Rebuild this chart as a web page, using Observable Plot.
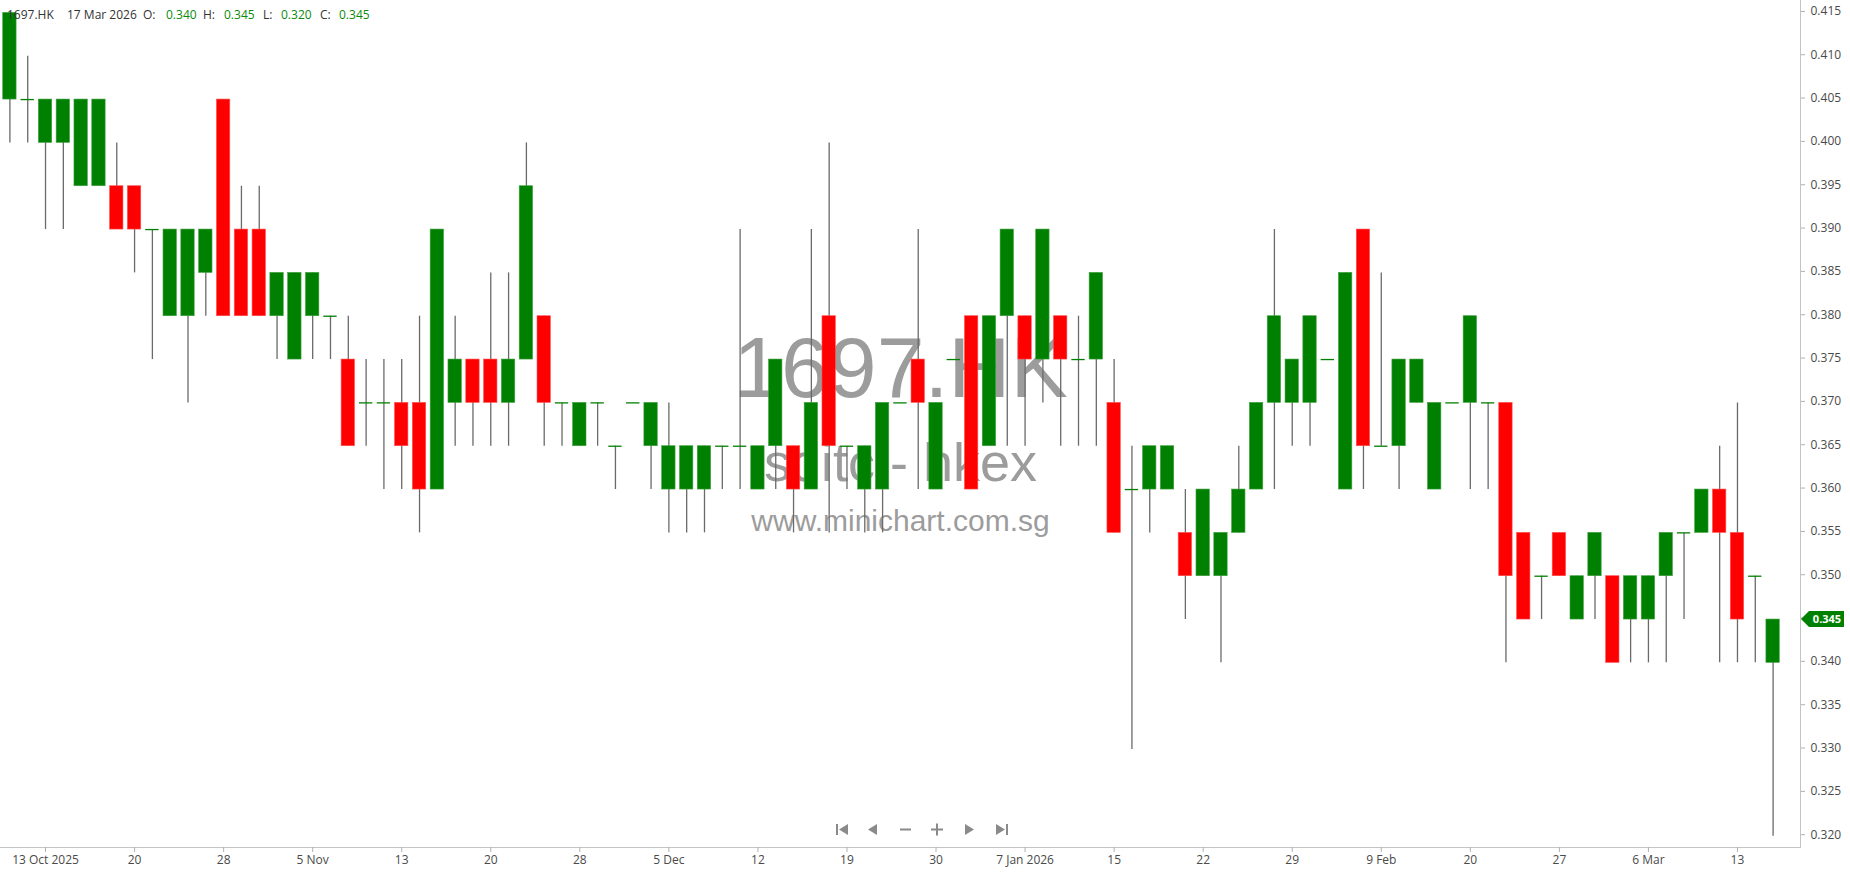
<!DOCTYPE html>
<html>
<head>
<meta charset="utf-8">
<script src="https://cdn.jsdelivr.net/npm/d3@7"></script>
<script src="https://cdn.jsdelivr.net/npm/@observablehq/plot@0.6"></script>
<style>
  html, body { margin: 0; padding: 0; background: #fff; }
  #wrap { position: relative; width: 1850px; height: 874px; overflow: hidden; font-family: "Open Sans", sans-serif; }
  #hdr { position: absolute; left: 0; top: 0; width: 600px; height: 30px; font-size: 12px; color: #333; }
  #hdr span { position: absolute; top: 9px; white-space: nowrap; line-height: 1; }
  #hdr .v { color: #0a8a0a; }
  #nav { position: absolute; left: 830px; top: 820px; }
</style>
</head>
<body>
<div id="wrap">
  <div id="chart"></div>
  <div id="hdr">
    <span style="left:7px">1697.HK</span>
    <span style="left:67px">17 Mar 2026</span>
    <span style="left:143px">O:</span><span class="v" style="left:166px">0.340</span>
    <span style="left:203px">H:</span><span class="v" style="left:224px">0.345</span>
    <span style="left:263px">L:</span><span class="v" style="left:281px">0.320</span>
    <span style="left:320px">C:</span><span class="v" style="left:339px">0.345</span>
  </div>
  <svg id="nav" width="190" height="20" viewBox="0 0 190 20">
    <g fill="#8a8a8a" stroke="none">
      <rect x="6" y="4" width="2" height="11"/><path d="M9 9.5 L18 4 L18 15 Z"/>
      <path d="M38 9.5 L47 4 L47 15 Z"/>
      <rect x="70" y="8.5" width="11" height="2"/>
      <rect x="101" y="8.5" width="12" height="2"/><rect x="106" y="3.5" width="2" height="12"/>
      <path d="M135 4 L144 9.5 L135 15 Z"/>
      <path d="M166 4 L175 9.5 L166 15 Z"/><rect x="176" y="4" width="2" height="11"/>
    </g>
  </svg>
</div>
<script>
// ---- data (prices, one entry per trading bar) ----
const open  = [0.405,0.405,0.400,0.400,0.395,0.395,0.395,0.395,0.390,0.380,
               0.380,0.385,0.405,0.390,0.390,0.380,0.375,0.380,0.380,0.375,
               0.370,0.370,0.370,0.370,0.360,0.370,0.375,0.375,0.370,0.375,
               0.380,0.370,0.365,0.370,0.365,0.370,0.365,0.360,0.360,0.360,
               0.365,0.365,0.360,0.365,0.365,0.360,0.380,0.365,0.360,0.360,
               0.370,0.375,0.360,0.375,0.380,0.365,0.380,0.380,0.375,0.380,
               0.375,0.375,0.370,0.360,0.360,0.360,0.355,0.350,0.350,0.355,
               0.360,0.370,0.370,0.370,0.375,0.360,0.390,0.365,0.365,0.370,
               0.360,0.370,0.370,0.370,0.370,0.355,0.350,0.355,0.345,0.350,
               0.350,0.345,0.345,0.350,0.355,0.355,0.360,0.355,0.350,0.340];
const high  = [0.415,0.410,0.405,0.405,0.405,0.405,0.400,0.395,0.390,0.390,
               0.390,0.390,0.405,0.395,0.395,0.385,0.385,0.385,0.380,0.380,
               0.375,0.375,0.375,0.380,0.390,0.380,0.375,0.385,0.385,0.400,
               0.380,0.370,0.370,0.370,0.365,0.370,0.370,0.370,0.365,0.365,
               0.365,0.390,0.365,0.375,0.365,0.390,0.400,0.365,0.365,0.370,
               0.370,0.390,0.370,0.375,0.380,0.380,0.390,0.380,0.390,0.380,
               0.380,0.385,0.375,0.365,0.365,0.365,0.360,0.360,0.355,0.365,
               0.370,0.390,0.375,0.380,0.375,0.385,0.390,0.385,0.375,0.375,
               0.370,0.370,0.380,0.370,0.370,0.355,0.350,0.355,0.350,0.355,
               0.350,0.350,0.350,0.355,0.355,0.360,0.365,0.370,0.350,0.345];
const low   = [0.400,0.400,0.390,0.390,0.395,0.395,0.390,0.385,0.375,0.380,
               0.370,0.380,0.380,0.380,0.380,0.375,0.375,0.375,0.375,0.365,
               0.365,0.360,0.360,0.355,0.360,0.365,0.365,0.365,0.365,0.375,
               0.365,0.365,0.365,0.365,0.360,0.370,0.360,0.355,0.355,0.355,
               0.360,0.360,0.360,0.360,0.355,0.360,0.355,0.360,0.355,0.355,
               0.370,0.360,0.360,0.375,0.360,0.365,0.365,0.365,0.370,0.365,
               0.365,0.365,0.355,0.330,0.355,0.360,0.345,0.350,0.340,0.355,
               0.360,0.360,0.365,0.365,0.375,0.360,0.360,0.365,0.360,0.370,
               0.360,0.370,0.360,0.360,0.340,0.345,0.345,0.350,0.345,0.345,
               0.340,0.340,0.340,0.340,0.345,0.355,0.340,0.340,0.340,0.320];
const close = [0.415,0.405,0.405,0.405,0.405,0.405,0.390,0.390,0.390,0.390,
               0.390,0.390,0.380,0.380,0.380,0.385,0.385,0.385,0.380,0.365,
               0.370,0.370,0.365,0.360,0.390,0.375,0.370,0.370,0.375,0.395,
               0.370,0.370,0.370,0.370,0.365,0.370,0.370,0.365,0.365,0.365,
               0.365,0.365,0.365,0.375,0.360,0.370,0.365,0.365,0.365,0.370,
               0.370,0.370,0.370,0.375,0.360,0.380,0.390,0.375,0.390,0.375,
               0.375,0.385,0.355,0.360,0.365,0.365,0.350,0.360,0.355,0.360,
               0.370,0.380,0.375,0.380,0.375,0.385,0.365,0.365,0.375,0.375,
               0.370,0.370,0.380,0.370,0.350,0.345,0.350,0.350,0.350,0.355,
               0.340,0.350,0.350,0.355,0.355,0.360,0.355,0.345,0.350,0.345];
// x-axis ticks: bar index and label
const tickBars   = [2,7,12,17,22,27,32,37,42,47,52,57,62,67,72,77,82,87,92,97];
const tickLabels = ["13 Oct 2025","20","28","5 Nov","13","20","28","5 Dec","12","19",
                    "30","7 Jan 2026","15","22","29","9 Feb","20","27","6 Mar","13"];
// y-axis ticks
const yTicks = [0.320,0.325,0.330,0.335,0.340,0.345,0.350,0.355,0.360,0.365,
                0.370,0.375,0.380,0.385,0.390,0.395,0.400,0.405,0.410,0.415];
const symbol = "1697.HK";
const subName = "sditc - hkex";
const site = "www.minichart.com.sg";

const bars = open.map((o, i) => ({i, o, h: high[i], l: low[i], c: close[i]}));
const labelOf = new Map(tickBars.map((b, k) => [b, tickLabels[k]]));
const UP = "#008000", DOWN = "#ff0000";

const chart = Plot.plot({
  width: 1850, height: 874,
  marginTop: 0, marginLeft: 0, marginRight: 50, marginBottom: 27,
  style: {fontFamily: "'Open Sans', sans-serif", fontSize: "12px", color: "#4a4a4a", background: "#fff", overflow: "visible"},
  x: {type: "band", domain: bars.map(d => d.i), range: [0.5, 1781.5], paddingInner: 0.25, paddingOuter: 0.125, round: false, axis: null},
  y: {domain: [0.320, 0.415], range: [835.7, 12.4], axis: null},
  marks: [
    // watermark
    Plot.text([symbol], {text: d => d, frameAnchor: "top", lineAnchor: "bottom", dy: 396, fontSize: 86, fontFamily: "'Liberation Sans', Arial, sans-serif", fill: "#9c9c9c"}),
    Plot.text([subName], {text: d => d, frameAnchor: "top", lineAnchor: "bottom", dy: 480, fontSize: 54, letterSpacing: "1.5px", fontFamily: "'Liberation Sans', Arial, sans-serif", fill: "#9c9c9c"}),
    Plot.text([site], {text: d => d, frameAnchor: "top", lineAnchor: "bottom", dy: 530, fontSize: 30, fontFamily: "'Liberation Sans', Arial, sans-serif", fill: "#9c9c9c"}),
    // frame lines
    Plot.frame({anchor: "right", stroke: "#c4c4c4"}),
    Plot.frame({anchor: "bottom", stroke: "#c4c4c4"}),
    // wicks
    Plot.ruleX(bars, {x: "i", y1: "l", y2: "h", stroke: "#6a6a6a", strokeWidth: 1.3}),
    // bodies
    Plot.barY(bars.filter(d => d.o !== d.c), {x: "i", y1: "o", y2: "c", fill: d => d.c > d.o ? UP : DOWN, stroke: d => d.c > d.o ? "#3fa03f" : "#ff5050", strokeWidth: 0.6}),
    // doji bars
    Plot.tickY(bars.filter(d => d.o === d.c), {x: "i", y: "c", stroke: UP, strokeWidth: 1.3}),
    // axes
    Plot.axisX({ticks: tickBars, tickFormat: d => labelOf.get(d), tickSize: 5, tickPadding: 3, stroke: "#b0b0b0", fill: "#4a4a4a", label: null}),
    Plot.axisY({anchor: "right", ticks: yTicks, tickFormat: d3.format(".3f"), tickSize: 4, tickPadding: 6, dy: -1.5, stroke: "#b0b0b0", fill: "#4a4a4a", label: null})
  ]
});
document.getElementById("chart").appendChild(chart);

// last-price tag on the right axis, positioned through the y scale
const last = bars[bars.length - 1];
const yy = chart.scale("y").apply(last.c);
const svg = d3.select(chart);
const tag = svg.append("g");
tag.append("path")
  .attr("d", `M1801,${yy} L1809,${yy - 8} L1844,${yy - 8} L1844,${yy + 8} L1809,${yy + 8} Z`)
  .attr("fill", last.c >= last.o ? UP : DOWN);
tag.append("text")
  .attr("x", 1827).attr("y", yy).attr("dy", "0.35em")
  .attr("text-anchor", "middle").attr("fill", "#fff")
  .attr("font-size", 11).attr("font-weight", "bold")
  .attr("font-family", "'Open Sans', sans-serif")
  .text(d3.format(".3f")(last.c));
</script>
</body>
</html>
